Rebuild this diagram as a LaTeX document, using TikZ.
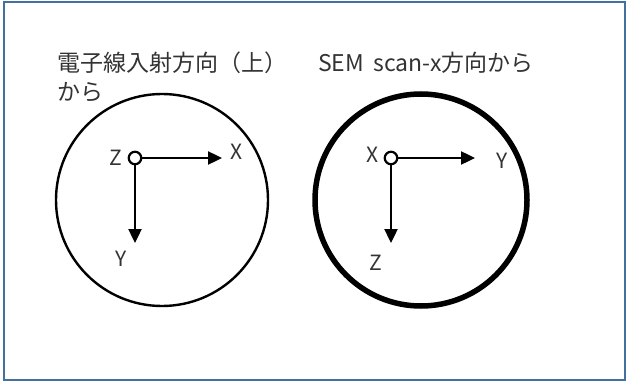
\documentclass[tikz,border=0pt]{standalone}
\usepackage{fontspec}
\setmainfont{Noto Sans CJK JP}
\usetikzlibrary{arrows.meta}
\definecolor{framec}{HTML}{41719C}
\definecolor{txt}{HTML}{333333}

\begin{document}
\begin{tikzpicture}[x=1pt, y=-1pt, font=\fontsize{23}{29}\selectfont,
  every node/.style={text=txt, inner sep=0pt},
  lbl/.style={font=\fontsize{21}{25}\selectfont},
  view/.style={circle, draw=black, minimum size=212pt},
  orig/.style={circle, draw=black, fill=white, line width=2.2pt, minimum size=12.5pt},
  ax/.style={line width=2.4pt, -{Triangle[length=14pt,width=13pt]}}]
  \useasboundingbox (0,0) rectangle (628,382);
  \draw[framec, line width=2pt] (4,2) rectangle (625,380);

  % left view: beam direction
  \node[anchor=base west] (ltitle) at (57,72) {電子線入射方向（上）};
  \node[anchor=base west] (ltitle2) at (57,101) {から};
  \node[view, line width=2.4pt] (lview) at (162,200) {};
  \node[orig] (lo) at (135,158) {};
  \coordinate (lx) at (222,158);
  \coordinate (ly) at (135,243);
  \draw[ax] (lo) -- (lx);
  \draw[ax] (lo) -- (ly);
  \node[lbl] (lzl) at (116,158) {Z};
  \node[lbl] (lxl) at (237,152) {X};
  \node[lbl] (lyl) at (121,259) {Y};

  % right view: along scan-x
  \node[anchor=base west] (rtitle) at (318,72) {SEM\hspace{4pt} scan-x方向から};
  \node[view, line width=5.5pt] (rview) at (421,200) {};
  \node[orig] (ro) at (391,158) {};
  \coordinate (ry) at (475,158);
  \coordinate (rz) at (391,243);
  \draw[ax] (ro) -- (ry);
  \draw[ax] (ro) -- (rz);
  \node[lbl] (rxl) at (373,155) {X};
  \node[lbl] (ryl) at (502,161) {Y};
  \node[lbl] (rzl) at (376,263) {Z};
\end{tikzpicture}
\end{document}
